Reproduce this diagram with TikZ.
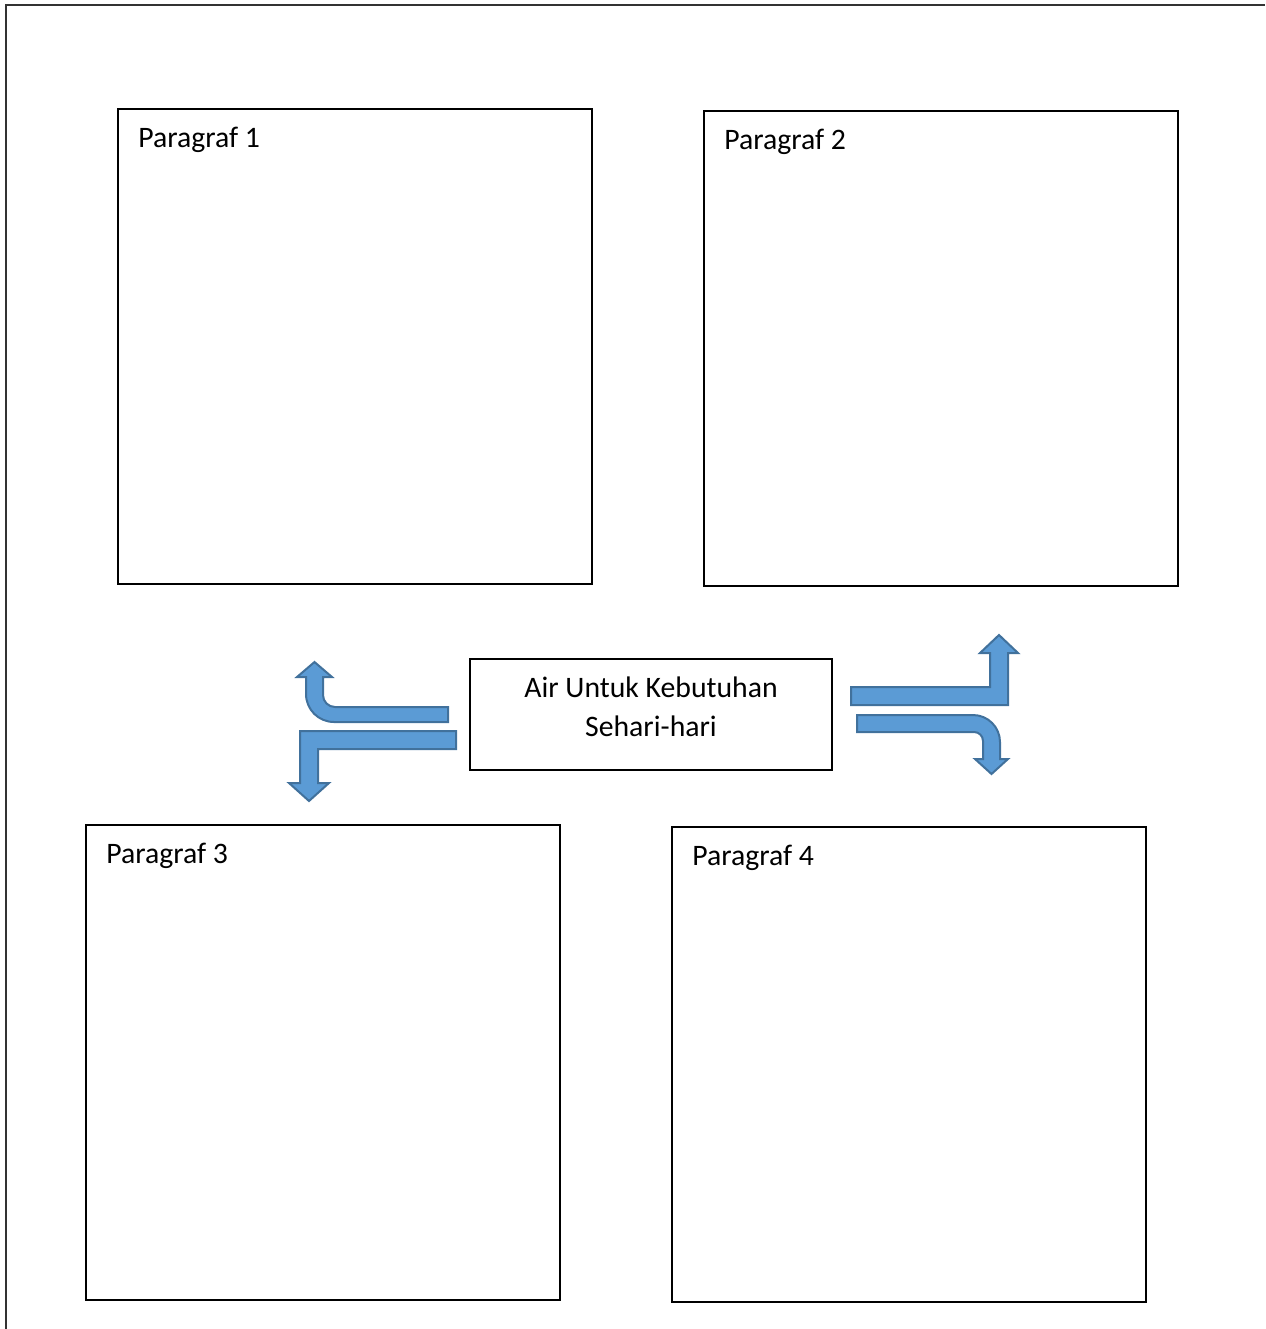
\documentclass[tikz,border=0pt]{standalone}
\usepackage{fontspec}
\setmainfont{Carlito}
\definecolor{arrowfill}{HTML}{5B9BD5}
\definecolor{arrowline}{HTML}{41719C}
\begin{document}
\begin{tikzpicture}[x=0.75pt,y=-0.75pt,
  box/.style={draw=black, line width=0.9pt, inner sep=0pt, outer sep=0pt},
  label/.style={anchor=base west, inner sep=0pt, font=\fontsize{22.3}{29}\selectfont},
  ctext/.style={anchor=base, inner sep=0pt, font=\fontsize{22.3}{29}\selectfont},
  blockarrow/.style={fill=arrowfill, draw=arrowline, line width=1.5pt, line join=miter},
  frame/.style={draw=black!80, line width=1.5pt}]
\useasboundingbox (0,0) rectangle (1265,1329);
\draw[frame] (6,1329) -- (6,5) -- (1265,5);
% paragraph boxes
\node[box, minimum width=355.5pt, minimum height=356.25pt] (p1) at (355,346.5) {};
\node[box, minimum width=355.5pt, minimum height=356.25pt] (p2) at (941,348.5) {};
\node[box, minimum width=355.5pt, minimum height=356.25pt] (p3) at (323,1062.5) {};
\node[box, minimum width=355.5pt, minimum height=356.25pt] (p4) at (909,1064.5) {};
\node[label] (t1) at (138,147) {Paragraf 1};
\node[label] (t2) at (724,149) {Paragraf 2};
\node[label] (t3) at (106,863) {Paragraf 3};
\node[label] (t4) at (692,865) {Paragraf 4};
% center box
\node[box, minimum width=271.5pt, minimum height=83.25pt] (c) at (651,714.5) {};
\node[ctext] (c1) at (651,697) {Air Untuk Kebutuhan};
\node[ctext] (c2) at (651,736) {Sehari-hari};
% arrows
\draw[blockarrow] (448,707) -- (335,707) .. controls (328.4,707) and (323,701.6) .. (323,695)
  -- (323,677) -- (332,677) -- (314.5,662) -- (297,677) -- (306,677) -- (306,694)
  .. controls (306,709.5) and (318.5,722) .. (334,722) -- (448,722) -- cycle;
\draw[blockarrow] (456,731) -- (300,731) -- (300,783) -- (289,783) -- (309,801) -- (329,783)
  -- (318,783) -- (318,749) -- (456,749) -- cycle;
\draw[blockarrow] (851,687) -- (990,687) -- (990,653) -- (980,653) -- (999,635) -- (1018,653)
  -- (1008,653) -- (1008,705) -- (851,705) -- cycle;
\draw[blockarrow] (857,715) -- (973,715) .. controls (987.9,715) and (1000,727.1) .. (1000,742)
  -- (1000,759) -- (1008,759) -- (991.5,774) -- (975,759) -- (983,759) -- (983,741)
  .. controls (983,736) and (979,732) .. (974,732) -- (857,732) -- cycle;
\end{tikzpicture}
\end{document}
